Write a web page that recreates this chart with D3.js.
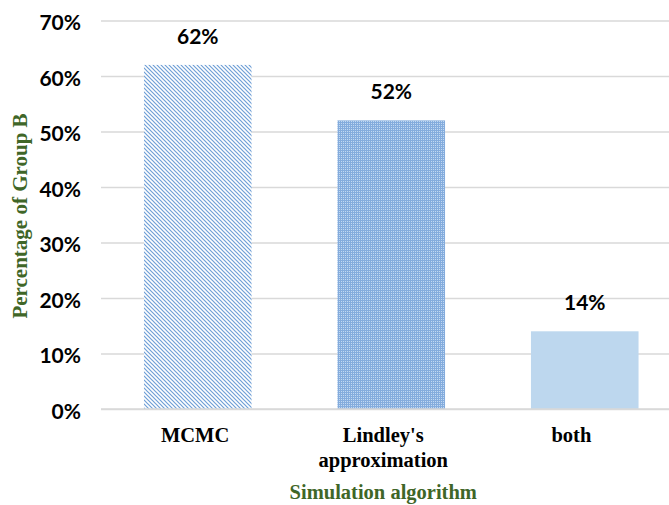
<!DOCTYPE html>
<html>
<head>
<meta charset="utf-8">
<script src="https://cdn.jsdelivr.net/npm/d3@7"></script>
<style>
  html, body { margin: 0; padding: 0; background: #fff; }
  svg { display: block; }
</style>
</head>
<body>
<svg id="chart" width="669" height="505"></svg>
<script>
// Share of Group B handled by each simulation algorithm
const categories = ["MCMC", "Lindley's approximation", "both"];
const categoryLines = [["MCMC"], ["Lindley's", "approximation"], ["both"]];
const values = [0.62, 0.52, 0.14];
const valueLabels = ["62%", "52%", "14%"];
const yTicks = [0, 0.1, 0.2, 0.3, 0.4, 0.5, 0.6, 0.7];
const yTitle = "Percentage of Group B";
const xTitle = "Simulation algorithm";

const svg = d3.select("#chart");
const W = 669, H = 505;
const plot = { left: 101, right: 681.5, top: 20.5, bottom: 409 };

const x = d3.scaleBand()
  .domain(categories)
  .range([plot.left, plot.right])
  .paddingInner(0.444)
  .paddingOuter(0.222);

// category text sits on a slightly narrower band
const xLabel = d3.scaleBand()
  .domain(categories)
  .range([plot.left, 665.5]);

const y = d3.scaleLinear().domain([0, 0.7]).range([plot.bottom, plot.top]);

// fill patterns
const defs = svg.append("defs");
const diag = defs.append("pattern")
  .attr("id", "diag").attr("patternUnits", "userSpaceOnUse")
  .attr("width", 4).attr("height", 4);
diag.append("rect").attr("width", 4).attr("height", 4).attr("fill", "#ffffff");
diag.append("path")
  .attr("d", "M-1,-1 L5,5 M-1,3 L1,5 M3,-1 L5,1")
  .attr("stroke", "#6f9fd6").attr("stroke-width", 1.2);

const grid = defs.append("pattern")
  .attr("id", "grid").attr("patternUnits", "userSpaceOnUse")
  .attr("width", 2).attr("height", 2);
grid.append("rect").attr("width", 2).attr("height", 2).attr("fill", "#84acdd");
grid.append("rect").attr("x", 1).attr("y", 1).attr("width", 1).attr("height", 1).attr("fill", "#c2d9f2");

const fills = ["url(#diag)", "url(#grid)", "#bdd7ee"];

// gridlines and tick labels
const yAxis = d3.axisLeft(y)
  .tickValues(yTicks)
  .tickSize(-(W - plot.left))
  .tickFormat(d3.format(".0%"))
  .tickPadding(20);

const gy = svg.append("g")
  .attr("transform", `translate(${plot.left},0)`)
  .call(yAxis);
gy.select(".domain").remove();
gy.selectAll(".tick line")
  .attr("stroke", "#d9d9d9").attr("stroke-width", 1.5);
gy.selectAll(".tick text")
  .attr("font-family", "Lato, 'Open Sans', sans-serif")
  .attr("font-weight", "bold")
  .attr("font-size", 21)
  .attr("fill", "#000")
  .attr("dy", "0.45em");

// bars
svg.append("g").selectAll("rect")
  .data(values)
  .join("rect")
  .attr("x", (d, i) => x(categories[i]))
  .attr("width", x.bandwidth())
  .attr("y", d => y(d))
  .attr("height", d => y(0) - y(d))
  .attr("fill", (d, i) => fills[i]);

// baseline
svg.append("line")
  .attr("x1", plot.left).attr("x2", W)
  .attr("y1", y(0)).attr("y2", y(0))
  .attr("stroke", "#d9d9d9").attr("stroke-width", 1.5);

// value labels
svg.append("g").selectAll("text")
  .data(values)
  .join("text")
  .attr("x", (d, i) => x(categories[i]) + x.bandwidth() / 2)
  .attr("y", d => y(d) - 21)
  .attr("text-anchor", "middle")
  .attr("font-family", "Lato, 'Open Sans', sans-serif")
  .attr("font-weight", "bold")
  .attr("font-size", 21)
  .attr("fill", "#000")
  .text((d, i) => valueLabels[i]);

// category labels
const cat = svg.append("g").selectAll("text")
  .data(categoryLines)
  .join("text")
  .attr("text-anchor", "middle")
  .attr("font-family", "'Liberation Serif', 'Times New Roman', serif")
  .attr("font-weight", "bold")
  .attr("font-size", 20.5)
  .attr("fill", "#000");
cat.each(function(lines, i) {
  const cx = xLabel(categories[i]) + xLabel.bandwidth() / 2;
  d3.select(this).selectAll("tspan")
    .data(lines)
    .join("tspan")
    .attr("x", cx)
    .attr("y", (l, j) => 442 + j * 25)
    .text(l => l);
});

// axis titles
svg.append("text")
  .attr("x", xLabel.range()[0] + (xLabel.range()[1] - xLabel.range()[0]) / 2)
  .attr("y", 499)
  .attr("text-anchor", "middle")
  .attr("font-family", "'Liberation Serif', 'Times New Roman', serif")
  .attr("font-weight", "bold")
  .attr("font-size", 20.5)
  .attr("fill", "#3f6628")
  .text(xTitle);

svg.append("text")
  .attr("transform", `translate(27,216) rotate(-90)`)
  .attr("text-anchor", "middle")
  .attr("font-family", "'Liberation Serif', 'Times New Roman', serif")
  .attr("font-weight", "bold")
  .attr("font-size", 21)
  .attr("fill", "#3f6628")
  .text(yTitle);
</script>
</body>
</html>
